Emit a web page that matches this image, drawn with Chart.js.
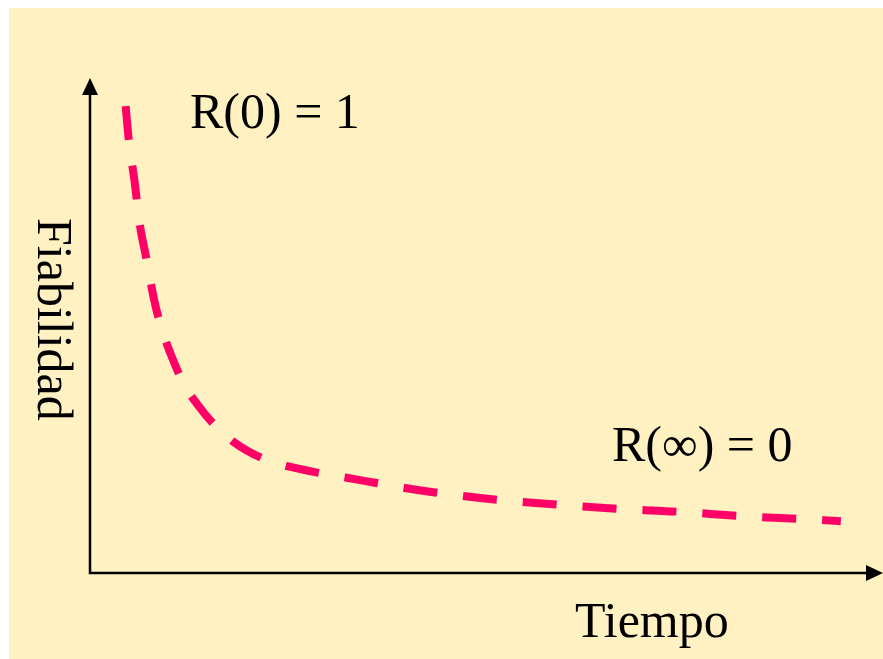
<!DOCTYPE html>
<html>
<head>
<meta charset="utf-8">
<script src="https://cdn.jsdelivr.net/npm/chart.js@4"></script>
<style>
  body { margin: 0; background: #ffffff; }
  canvas { display: block; }
</style>
</head>
<body>
<canvas id="relChart" width="883" height="659"></canvas>
<script>
// curve: time (0..10) vs reliability (0..1)
let tiempo = [0.45, 0.49, 0.56, 0.63, 0.71, 0.81, 0.91, 1.04, 1.19, 1.36, 1.55, 1.81, 2.17, 2.53, 2.90, 3.41, 3.91, 4.42, 5.18, 5.93, 6.69, 7.45, 8.21, 8.96, 9.48];
let fiab = [1.00, 0.927, 0.842, 0.745, 0.675, 0.585, 0.520, 0.460, 0.403, 0.360, 0.321, 0.281, 0.246, 0.227, 0.214, 0.199, 0.184, 0.171, 0.156, 0.146, 0.137, 0.131, 0.122, 0.116, 0.111];

let xTitle = 'Tiempo';
let yTitle = 'Fiabilidad';
let noteStart = 'R(0) = 1';
let noteEnd = 'R(\u221E) = 0';

let pts = [];
tiempo.forEach((t, i) => {
  pts.push({ x: t, y: fiab[i] });
});

const fnt = '50px "Liberation Serif", "Times New Roman", serif';

// yellow slide background
const bgPlug = {
  id: 'bgPlug',
  beforeDraw(chart) {
    const ctx = chart.ctx;
    ctx.save();
    ctx.fillStyle = '#fff1c1';
    ctx.fillRect(9, 8, chart.width - 9, chart.height - 8);
    ctx.restore();
  }
};

// axes with arrow heads + the labels
const axPlug = {
  id: 'axPlug',
  afterDraw(chart) {
    const ctx = chart.ctx;
    const a = chart.chartArea;
    ctx.save();
    ctx.strokeStyle = '#000';
    ctx.fillStyle = '#000';
    ctx.lineWidth = 2.5;
    ctx.beginPath();
    ctx.moveTo(a.left, 94);
    ctx.lineTo(a.left, a.bottom);
    ctx.lineTo(866, a.bottom);
    ctx.stroke();
    // up arrow
    ctx.beginPath();
    ctx.moveTo(a.left, 78);
    ctx.lineTo(a.left - 8, 95);
    ctx.lineTo(a.left + 8, 95);
    ctx.closePath();
    ctx.fill();
    // right arrow
    ctx.beginPath();
    ctx.moveTo(883, a.bottom);
    ctx.lineTo(866, a.bottom - 8);
    ctx.lineTo(866, a.bottom + 8);
    ctx.closePath();
    ctx.fill();

    ctx.font = fnt;
    ctx.textAlign = 'left';
    ctx.textBaseline = 'alphabetic';
    ctx.fillText(noteStart, 190, 128);
    ctx.fillText(noteEnd, 612, 461);
    ctx.fillText(xTitle, 575, 637);

    ctx.translate(38, 218);
    ctx.rotate(Math.PI / 2);
    ctx.fillText(yTitle, 0, 0);
    ctx.restore();
  }
};

const ctx = document.getElementById('relChart').getContext('2d');
new Chart(ctx, {
  type: 'line',
  data: {
    datasets: [{
      label: 'R(t)',
      data: pts,
      borderColor: '#ff0066',
      borderWidth: 8,
      borderDash: [34, 26],
      borderCapStyle: 'butt',
      pointRadius: 0,
      fill: false,
      cubicInterpolationMode: 'monotone'
    }]
  },
  options: {
    responsive: false,
    animation: false,
    layout: {
      padding: { left: 90, top: 78, right: 1, bottom: 86 }
    },
    scales: {
      x: { type: 'linear', min: 0, max: 10, display: false },
      y: { type: 'linear', min: 0, max: 1.06, display: false }
    },
    plugins: {
      legend: { display: false },
      tooltip: { enabled: false }
    }
  },
  plugins: [bgPlug, axPlug]
});
</script>
</body>
</html>
